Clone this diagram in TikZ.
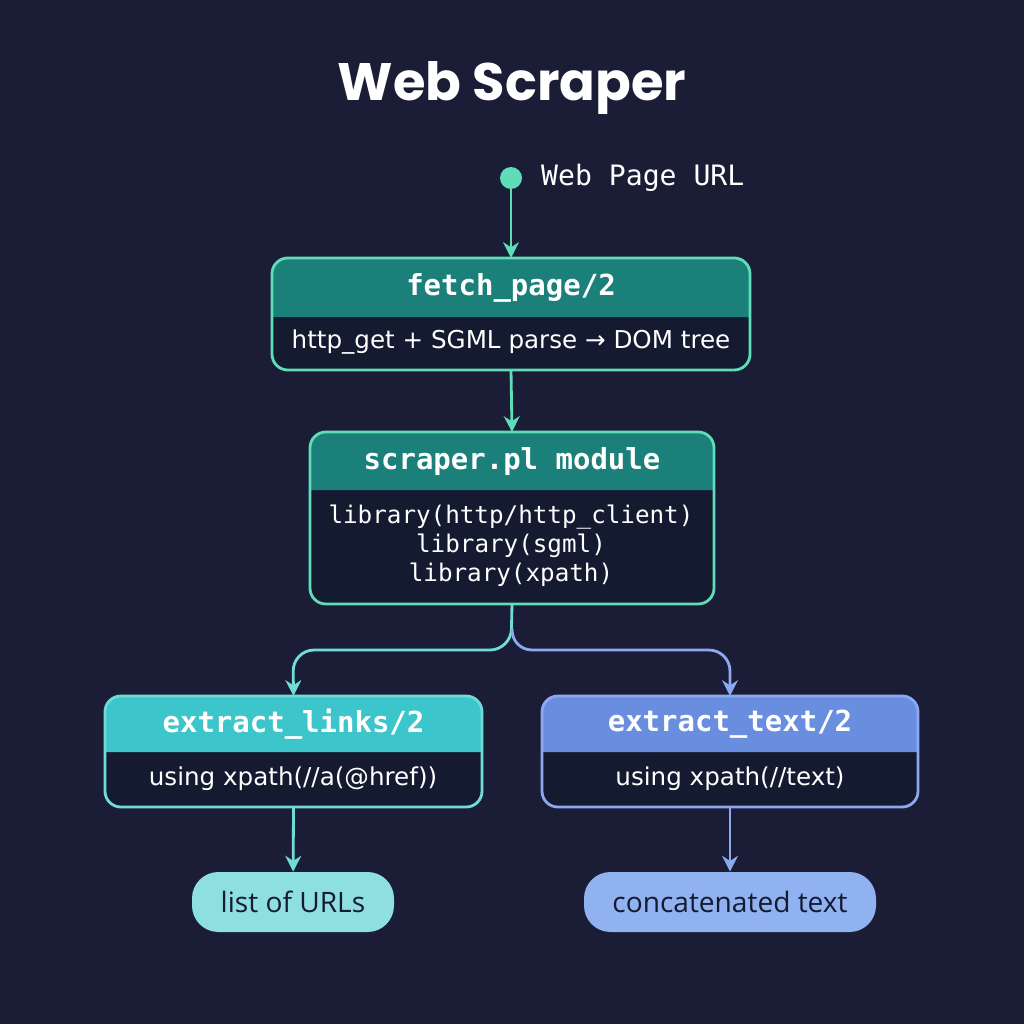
\documentclass[tikz,border=0pt]{standalone}
\usepackage{fontspec}
\setmainfont{Open Sans}
\newfontfamily\titlefont{Poppins}
\newfontfamily\monofont{DejaVu Sans Mono}
\newfontfamily\bodyfont{DejaVu Sans}
\usetikzlibrary{arrows.meta}
\definecolor{bgc}{HTML}{1A1D35}
\definecolor{bodyc}{HTML}{141A30}
\definecolor{tealh}{HTML}{1B7F7A}
\definecolor{tealb}{HTML}{5FDCB8}
\definecolor{cyanh}{HTML}{3CC6CC}
\definecolor{cyanb}{HTML}{70DCD8}
\definecolor{blueh}{HTML}{6A8EDF}
\definecolor{blueb}{HTML}{8CA8F0}
\definecolor{cyanp}{HTML}{8EE0E0}
\definecolor{bluep}{HTML}{90B2F0}
\tikzset{>={Stealth[length=9pt,width=9pt]}}
\tikzset{
  frame/.style={draw=#1, line width=1.6pt, rounded corners=9pt},
  hdr/.style={font=\monofont\bfseries\fontsize{16.5}{18}\selectfont, text=white},
  txt/.style={font=\bodyfont\fontsize{14}{17}\selectfont, text=white, align=center},
  pill/.style={rounded corners=15pt, fill=#1, text=bodyc, font=\fontsize{16}{18}\selectfont},
  conn/.style={->, line width=1.6pt, draw=#1}
}
% box: name, x1, y1, x2, y2, split, header colour, border colour, title
\newcommand{\scbox}[9]{%
  \fill[bodyc, rounded corners=9pt] (#2,#3) rectangle (#4,#5);
  \fill[#7] (#2,#6) [rounded corners=9pt] -- (#2,#3) -- (#4,#3) [sharp corners] -- (#4,#6) -- cycle;
  \draw[frame=#8] (#2,#3) rectangle (#4,#5);
  \node[hdr] (#1-head) at ({(#2+#4)/2},{(#3+#6)/2}) {#9};
  \coordinate (#1-n) at ({(#2+#4)/2},#3);
  \coordinate (#1-s) at ({(#2+#4)/2},#5);
}
\begin{document}
\begin{tikzpicture}[x=0.02cm, y=-0.02cm]
  \fill[bgc] (0,0) rectangle (1024,1024);
  \useasboundingbox (0,0) rectangle (1024,1024);
  \node[text=white, font=\titlefont\bfseries\fontsize{30}{36}\selectfont] (title) at (512,88) {Web Scraper};
  % input
  \fill[tealb] (511,178) circle (11);
  \coordinate (url) at (511,178);
  \node[anchor=west, text=white, font=\monofont\fontsize{16}{18}\selectfont] (urltxt) at (535,178) {Web Page URL};
  % boxes
  \scbox{fetch}{272}{258}{750}{370}{317}{tealh}{tealb}{fetch\_page/2}
  \node[txt] (fetchbody) at (511,342) {http\_get + SGML parse → DOM tree};
  \scbox{scraper}{310}{432}{714}{604}{490}{tealh}{tealb}{scraper.pl module}
  \node[txt, font=\monofont\fontsize{13.8}{16.5}\selectfont] (scraperbody) at (511,546)
    {library(http/http\_client)\\library(sgml)\\library(xpath)};
  \scbox{links}{105}{696}{482}{807}{752}{cyanh}{cyanb}{extract\_links/2}
  \node[txt] (linksbody) at (293,779) {using xpath(//a(@href))};
  \scbox{text}{542}{696}{918}{807}{752}{blueh}{blueb}{extract\_text/2}
  \node[txt] (textbody) at (730,779) {using xpath(//text)};
  % results
  \node[pill=cyanp, minimum width=202*0.02cm, minimum height=60*0.02cm] (urls) at (293,902) {list of URLs};
  \node[pill=bluep, minimum width=292*0.02cm, minimum height=60*0.02cm] (joined) at (730,902) {concatenated text};
  % connectors
  \draw[conn=tealb] (url) -- (fetch-n);
  \draw[conn=tealb] (fetch-s) -- (scraper-n);
  \draw[conn=cyanb, rounded corners=12pt] (scraper-s) -- (511,650) -- (293,650) -- (links-n);
  \draw[conn=blueb, rounded corners=12pt] (scraper-s) ++(0,28) -- (511,650) -- (730,650) -- (text-n);
  \draw[conn=cyanb] (links-s) -- (urls);
  \draw[conn=blueb] (text-s) -- (joined);
\end{tikzpicture}
\end{document}
